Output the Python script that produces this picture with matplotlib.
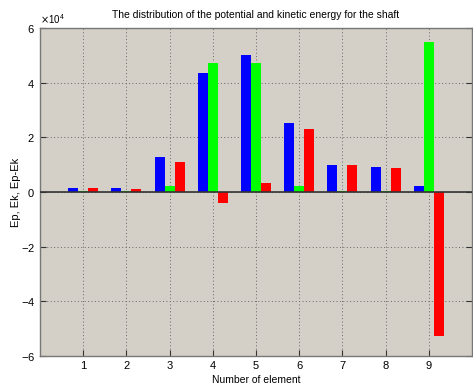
import matplotlib
matplotlib.use("Agg")
import matplotlib.pyplot as plt
import numpy as np
from matplotlib.ticker import ScalarFormatter

elements = [1, 2, 3, 4, 5, 6, 7, 8, 9]
# values in units of 1e4
ep = [0.15, 0.13, 1.27, 4.37, 5.00, 2.54, 1.00, 0.91, 0.21]
ek = [0.03, 0.03, 0.22, 4.73, 4.72, 0.22, 0.05, 0.05, 5.49]
ep_ek = [0.13, 0.10, 1.09, -0.40, 0.33, 2.30, 1.00, 0.89, -5.27]
scale = 1e4

plt.rcParams['font.family'] = ['Liberation Sans', 'DejaVu Sans']
fig = plt.figure(figsize=(4.73, 3.9), dpi=100)
ax = fig.add_axes([40/473, 34/390, 432/473, 328/390])
ax.set_facecolor('#d4d0c8')

x = np.array(elements, dtype=float)
w = 0.23
for off, vals, col in [(-w, ep, '#0000ff'), (0, ek, '#00ff00'), (w, ep_ek, '#ff0000')]:
    ax.bar(x + off, np.array(vals) * scale, width=w, color=col, edgecolor='none', zorder=3)

ax.axhline(0, color='#333333', lw=1.2, zorder=4)
ax.set_xlim(0, 10)
ax.set_ylim(-6e4, 6e4)
ax.set_xticks(elements)
ax.set_yticks(np.arange(-6, 7, 2) * scale)
fmt = ScalarFormatter(useMathText=True)
fmt.set_powerlimits((0, 0))
ax.yaxis.set_major_formatter(fmt)
ax.yaxis.get_offset_text().set_fontsize(7)
ax.grid(True, linestyle=(0, (1, 2.5)), color='#666666', lw=0.7, zorder=1)
ax.tick_params(direction='in', labelsize=8, length=4, color='#333333', right=True, top=False)
for s in ax.spines.values():
    s.set_color('#777777')
    s.set_linewidth(1.0)

ax.set_title('The distribution of the potential and kinetic energy for the shaft', fontsize=7.5, pad=7)
ax.set_xlabel('Number of element', fontsize=7.5, labelpad=3)
ax.set_ylabel('Ep, Ek, Ep-Ek', fontsize=8, labelpad=0)

fig.savefig('out.png', dpi=100, facecolor='white')
